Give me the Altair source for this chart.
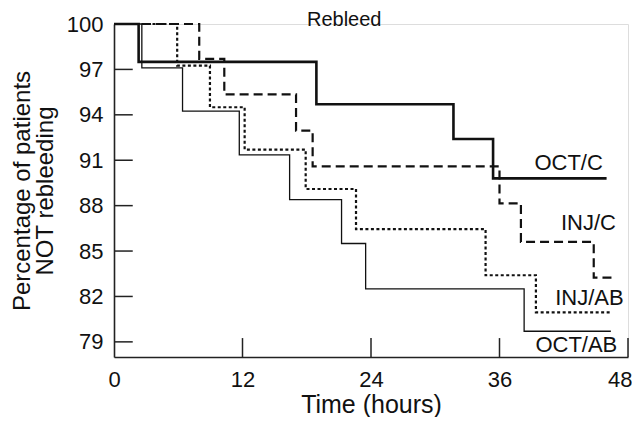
import altair as alt
import pandas as pd

# ---- data (time in hours, % not rebleeding) ----
oct_c_t = [0, 2.3, 18.9, 31.7, 35.4, 46.0]
oct_c_v = [100, 97.5, 94.7, 92.4, 89.8, 89.8]

oct_ab_t = [0, 2.6, 6.4, 11.7, 16.4, 21.25, 23.5, 38.3, 46.4]
oct_ab_v = [100, 97.1, 94.25, 91.35, 88.4, 85.5, 82.5, 79.7, 79.7]

inj_ab_t = [0, 5.9, 8.96, 12.2, 17.9, 22.6, 34.7, 39.4, 46.5]
inj_ab_v = [100, 97.25, 94.5, 91.7, 89.1, 86.45, 83.4, 80.95, 80.95]

inj_c_t = [0, 7.96, 10.3, 17.0, 18.55, 36.0, 38.0, 44.8, 46.5]
inj_c_v = [100, 97.7, 95.35, 92.95, 90.6, 88.15, 85.6, 83.25, 83.25]

label_names = ["OCT/C", "INJ/C", "INJ/AB", "OCT/AB"]
label_t = [45.65, 46.87, 47.6, 47.0]
label_v = [90.81, 86.85, 81.89, 78.82]

title_text = ["Rebleed"]
title_t = [21.5]
title_v = [100.25]

x_ticks = [0, 12, 24, 36, 48]
y_ticks = [79, 82, 85, 88, 91, 94, 97, 100]

FONT = "Liberation Sans"
INK = "#111111"

xscale = alt.Scale(domain=[0, 48], nice=False, zero=False)
yscale = alt.Scale(domain=[78, 100], nice=False, zero=False)

xaxis = alt.Axis(values=x_ticks, ticks=False, tickSize=0, grid=False, domainColor="#222",
                 domainWidth=1.6, labelFontSize=22, labelFont=FONT, labelColor=INK,
                 labelPadding=12,
                 labelAlign={"condition": {"test": "datum.value == 48", "value": "right"},
                             "value": "center"},
                 labelOffset={"condition": {"test": "datum.value == 48", "value": 4},
                              "value": 0},
                 title="Time (hours)", titleFontSize=25, titleFont=FONT,
                 titleFontWeight="normal", titleColor=INK, titlePadding=2, labelFlush=False)
yaxis = alt.Axis(values=y_ticks, ticks=False, tickSize=0, grid=False, domainColor="#222",
                 domainWidth=1.6, labelFontSize=22, labelFont=FONT, labelColor=INK,
                 labelPadding=11, title=["Percentage of patients", "NOT rebleeding"],
                 titleFontSize=24, titleLineHeight=23, titleFont=FONT,
                 titleFontWeight="normal", titleColor=INK, titlePadding=9,
                 labelFlush=False)


def step(t, v, **kw):
    df = pd.DataFrame({"t": t, "v": v})
    return alt.Chart(df).mark_line(interpolate="step-after", color=INK, **kw).encode(
        x=alt.X("t:Q", scale=xscale, axis=xaxis),
        y=alt.Y("v:Q", scale=yscale, axis=yaxis),
    )


ytick_df = pd.DataFrame({"v": y_ticks[:-1]})
ytick_df["a"] = 0
ytick_df["b"] = 1.75
yticks_layer = alt.Chart(ytick_df).mark_rule(color="#222", strokeWidth=1.5).encode(
    x=alt.X("a:Q", scale=xscale, axis=xaxis), x2="b:Q",
    y=alt.Y("v:Q", scale=yscale, axis=yaxis))

xtick_df = pd.DataFrame({"t": x_ticks[1:]})
xtick_df["a"] = 78
xtick_df["b"] = 79.25
xticks_layer = alt.Chart(xtick_df).mark_rule(color="#222", strokeWidth=1.5).encode(
    x=alt.X("t:Q", scale=xscale, axis=xaxis),
    y=alt.Y("a:Q", scale=yscale, axis=yaxis), y2="b:Q")

lab_df = pd.DataFrame({"name": label_names, "t": label_t, "v": label_v})
labels = alt.Chart(lab_df).mark_text(align="right", baseline="middle", fontSize=22,
                                     font=FONT, color=INK).encode(
    x=alt.X("t:Q", scale=xscale, axis=xaxis),
    y=alt.Y("v:Q", scale=yscale, axis=yaxis),
    text="name:N")

ttl_df = pd.DataFrame({"name": title_text, "t": title_t, "v": title_v})
title_layer = alt.Chart(ttl_df).mark_text(align="center", baseline="middle", fontSize=20,
                                          font=FONT, color=INK).encode(
    x=alt.X("t:Q", scale=xscale, axis=xaxis),
    y=alt.Y("v:Q", scale=yscale, axis=yaxis),
    text="name:N")

chart = alt.layer(
    yticks_layer,
    xticks_layer,
    step(inj_ab_t, inj_ab_v, strokeWidth=2.2, strokeDash=[3, 2.5]),
    step(inj_c_t, inj_c_v, strokeWidth=2.2, strokeDash=[9, 5]),
    step(oct_ab_t, oct_ab_v, strokeWidth=1.3),
    step(oct_c_t, oct_c_v, strokeWidth=2.6),
    labels,
    title_layer,
).properties(
    width=514, height=333,
    autosize=alt.AutoSizeParams(type="none"),
    padding={"left": 106, "top": 16, "right": 4, "bottom": 60},
).configure_view(stroke=None).configure(background="white")

chart.save("out.html", embed_options={"renderer": "svg", "actions": False})
